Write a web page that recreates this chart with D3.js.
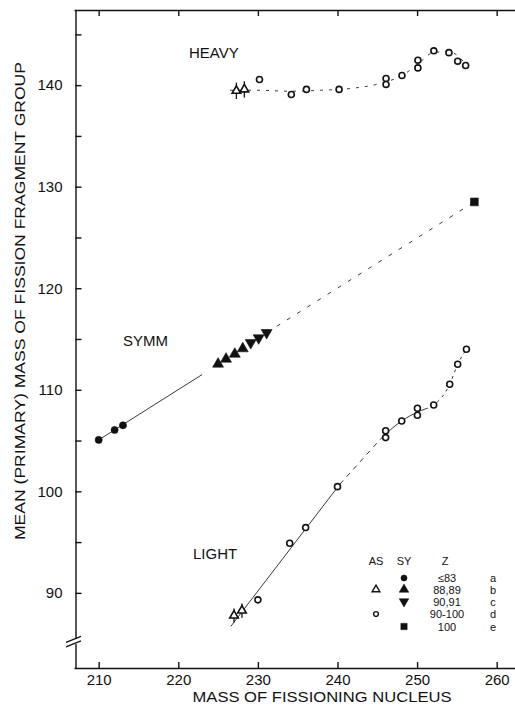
<!DOCTYPE html>
<html>
<head>
<meta charset="utf-8">
<script src="https://cdn.jsdelivr.net/npm/d3@7"></script>
<style>
  html, body { margin: 0; padding: 0; background: #fff; }
  svg text { font-family: "Liberation Sans", Arial, sans-serif; fill: #111; }
  .axis path, .axis line { stroke: #111; stroke-width: 1.4; }
  .axis text { font-size: 15px; }
</style>
</head>
<body>
<div class="chart"></div>
<script>
(function(){
    // x tick values and y tick values
    var xTicks = [210, 220, 230, 240, 250, 260];
    var yTicks = [90, 95, 100, 105, 110, 115, 120, 125, 130, 135, 140, 145];

    // HEAVY group
    var heavyAsX = [227.3, 228.3];
    var heavyAsY = [139.44, 139.58];
    var heavyX = [230.2, 234.2, 236.1, 240.2, 246.1, 246.1, 248.1, 250.1, 250.1, 252.1, 254.0, 255.1, 256.1];
    var heavyY = [140.56, 139.08, 139.58, 139.58, 140.66, 140.07, 140.95, 142.46, 141.7, 143.38, 143.2, 142.36, 141.94];
    var heavyFitX = [226.5, 230, 234, 238, 242, 246, 248, 250, 252, 254, 256.3];
    var heavyFitY = [139.5, 139.5, 139.4, 139.5, 139.7, 140.3, 140.9, 142.0, 143.2, 143.3, 141.9];

    // SYMM group
    var symmCircX = [210.0, 212.0, 213.05];
    var symmCircY = [105.06, 106.04, 106.5];
    var symmUpX = [225.0, 226.0, 227.1, 228.1];
    var symmUpY = [112.54, 113.03, 113.52, 114.05];
    var symmDownX = [229.1, 230.1, 231.1];
    var symmDownY = [114.63, 115.1, 115.62];
    var symmSquareX = [257.2];
    var symmSquareY = [128.5];
    var symmSolidX = [210.0, 223.0];
    var symmSolidY = [105.06, 111.5];
    var symmDashX = [231.1, 257.2];
    var symmDashY = [115.62, 128.5];

    // LIGHT group
    var lightAsX = [227.0, 228.0];
    var lightAsY = [87.77, 88.26];
    var lightX = [230.0, 234.0, 236.0, 240.0, 246.05, 246.05, 248.07, 250.04, 250.04, 252.09, 254.1, 255.1, 256.2];
    var lightY = [89.31, 94.89, 96.43, 100.46, 105.97, 105.29, 106.93, 108.18, 107.49, 108.5, 110.54, 112.51, 113.99];
    var lightSolid1X = [226.6, 240.3];
    var lightSolid1Y = [86.7, 100.7];
    var lightDash1X = [240.3, 245.7];
    var lightDash1Y = [100.7, 105.4];
    var lightSolid2X = [245.7, 248.07, 250.04, 251.0];
    var lightSolid2Y = [105.4, 106.93, 107.8, 108.1];
    var lightDash2X = [251.0, 252.09, 254.1, 255.1, 256.4];
    var lightDash2Y = [108.1, 108.5, 110.54, 112.51, 114.2];

    // legend rows
    var legendZ = ["\u226483", "88,89", "90,91", "90-100", "100"];
    var legendLetters = ["a", "b", "c", "d", "e"];
    var legendAs = [null, "openTriangle", null, "openCircle", null];
    var legendSy = ["circle", "triangle", "downTriangle", null, "square"];

    var containerWidth = 515, containerHeight = 713;
    var svg = d3.select(".chart").append("svg")
        .attr("width", containerWidth)
        .attr("height", containerHeight);

    var x = d3.scaleLinear().domain([206.9, 262.3]).range([74, 515]);
    var y = d3.scaleLinear().domain([82.6, 147.4]).range([668, 10]);

    function pts(xs, ys){ return xs.map(function(d, i){ return [d, ys[i]]; }); }
    var line = d3.line().x(function(d){ return x(d[0]); }).y(function(d){ return y(d[1]); });
    var curve = d3.line().curve(d3.curveMonotoneX)
        .x(function(d){ return x(d[0]); }).y(function(d){ return y(d[1]); });

    // Axes, ticks point inward
    svg.append("g").attr("class", "axis x-axis")
        .attr("transform", "translate(0,668)")
        .call(d3.axisBottom(x).tickValues(xTicks).tickSizeInner(-6).tickSizeOuter(0).tickPadding(6));
    svg.append("g").attr("class", "axis top-axis")
        .attr("transform", "translate(0,10)")
        .call(d3.axisTop(x).tickValues(xTicks).tickSizeInner(-6).tickSizeOuter(0).tickFormat(""));
    svg.append("g").attr("class", "axis y-axis")
        .attr("transform", "translate(75.5,0)")
        .call(d3.axisLeft(y).tickValues(yTicks).tickSizeInner(-6).tickSizeOuter(0).tickPadding(13)
            .tickFormat(function(d){ return d % 10 === 0 ? d : ""; }));
    svg.selectAll(".axis .tick text").attr("fill", "#111");

    // axis break
    var yb = y(85.2);
    svg.append("rect").attr("x", 72).attr("y", yb - 2.5).attr("width", 7).attr("height", 5).attr("fill", "#fff");
    [-2.2, 2.2].forEach(function(o){
        svg.append("line")
            .attr("x1", 66).attr("y1", yb + o + 3)
            .attr("x2", 81).attr("y2", yb + o - 3)
            .attr("stroke", "#111").attr("stroke-width", 1.3);
    });

    // axis titles
    svg.append("text")
        .attr("transform", "translate(25,301) rotate(-90)")
        .attr("text-anchor", "middle")
        .attr("textLength", 478).attr("lengthAdjust", "spacingAndGlyphs")
        .style("font-size", "15.5px")
        .text("MEAN (PRIMARY) MASS OF FISSION FRAGMENT GROUP");
    svg.append("text")
        .attr("x", 322).attr("y", 702)
        .attr("text-anchor", "middle")
        .attr("textLength", 259).attr("lengthAdjust", "spacingAndGlyphs")
        .style("font-size", "15px")
        .text("MASS OF FISSIONING NUCLEUS");

    // group labels
    var groupLabels = [["HEAVY", 189, 58], ["SYMM", 123, 346], ["LIGHT", 193, 559]];
    svg.selectAll(".glabel").data(groupLabels).enter().append("text")
        .attr("class", "glabel")
        .attr("x", function(d){ return d[1]; })
        .attr("y", function(d){ return d[2]; })
        .style("font-size", "15px")
        .text(function(d){ return d[0]; });

    // fit lines
    var plot = svg.append("g");
    function path(data, gen, dash){
        plot.append("path").datum(data).attr("d", gen)
            .attr("fill", "none").attr("stroke", "#222").attr("stroke-width", 0.9)
            .attr("stroke-dasharray", dash || null);
    }
    path(pts(heavyFitX, heavyFitY), curve, "3,6");
    path(pts(symmSolidX, symmSolidY), line);
    path(pts(symmDashX, symmDashY), line, "4,8");
    path(pts(lightSolid1X, lightSolid1Y), line);
    path(pts(lightDash1X, lightDash1Y), line, "5,5");
    path(pts(lightSolid2X, lightSolid2Y), curve);
    path(pts(lightDash2X, lightDash2Y), curve, "3,4");

    // markers
    var sym = {
        circle: d3.symbol().type(d3.symbolCircle).size(40),
        triangle: d3.symbol().type(d3.symbolTriangle).size(52),
        square: d3.symbol().type(d3.symbolSquare).size(60),
        openTriangle: d3.symbol().type(d3.symbolTriangle).size(32),
        openCircle: d3.symbol().type(d3.symbolCircle).size(28)
    };
    function marks(data, kind, rot){
        var open = kind.indexOf("open") === 0;
        plot.selectAll(null).data(data).enter().append("path")
            .attr("d", sym[kind])
            .attr("transform", function(d){
                return "translate(" + x(d[0]) + "," + y(d[1]) + ")" + (rot ? " rotate(180)" : "");
            })
            .attr("fill", open ? "#fff" : "#111")
            .attr("stroke", "#111")
            .attr("stroke-width", open ? 1.6 : 0.6);
    }
    function errBars(data, err){
        plot.selectAll(null).data(data).enter().append("line")
            .attr("x1", function(d){ return x(d[0]); })
            .attr("x2", function(d){ return x(d[0]); })
            .attr("y1", function(d){ return y(d[1] + err); })
            .attr("y2", function(d){ return y(d[1] - err); })
            .attr("stroke", "#111").attr("stroke-width", 1.3);
    }

    errBars(pts(heavyAsX, heavyAsY), 0.8);
    marks(pts(heavyAsX, heavyAsY), "openTriangle");
    marks(pts(heavyX, heavyY), "openCircle");

    marks(pts(symmCircX, symmCircY), "circle");
    marks(pts(symmUpX, symmUpY), "triangle");
    marks(pts(symmDownX, symmDownY), "triangle", true);
    marks(pts(symmSquareX, symmSquareY), "square");

    errBars(pts(lightAsX, lightAsY), 0.7);
    marks(pts(lightAsX, lightAsY), "openTriangle");
    marks(pts(lightX, lightY), "openCircle");

    // legend
    var legend = svg.append("g").attr("class", "legend");
    var rowY = [578, 589.5, 601.5, 614, 626.5];
    var fs = "11px";
    legend.append("text").attr("x", 376).attr("y", 561).attr("text-anchor", "middle")
        .attr("dominant-baseline", "central").style("font-size", fs).text("AS");
    legend.append("text").attr("x", 404).attr("y", 561).attr("text-anchor", "middle")
        .attr("dominant-baseline", "central").style("font-size", fs).text("SY");
    legend.append("text").attr("x", 445).attr("y", 561).attr("text-anchor", "middle")
        .attr("dominant-baseline", "central").style("font-size", fs).text("Z");
    var legendSym = {
        circle: d3.symbol().type(d3.symbolCircle).size(30),
        triangle: d3.symbol().type(d3.symbolTriangle).size(40),
        downTriangle: d3.symbol().type(d3.symbolTriangle).size(40),
        square: d3.symbol().type(d3.symbolSquare).size(40),
        openTriangle: d3.symbol().type(d3.symbolTriangle).size(26),
        openCircle: d3.symbol().type(d3.symbolCircle).size(18)
    };
    legendZ.forEach(function(z, i){
        var ry = rowY[i];
        [[legendAs[i], 376], [legendSy[i], 404]].forEach(function(s){
            if (!s[0]) return;
            var open = s[0].indexOf("open") === 0;
            legend.append("path").attr("d", legendSym[s[0]])
                .attr("transform", "translate(" + s[1] + "," + ry + ")" + (s[0] === "downTriangle" ? " rotate(180)" : ""))
                .attr("fill", open ? "#fff" : "#111")
                .attr("stroke", "#111").attr("stroke-width", open ? 1.4 : 0.5);
        });
        legend.append("text").attr("x", 447).attr("y", ry).attr("text-anchor", "middle")
            .attr("dominant-baseline", "central").style("font-size", fs).text(z);
        legend.append("text").attr("x", 493).attr("y", ry).attr("text-anchor", "middle")
            .attr("dominant-baseline", "central").style("font-size", fs).text(legendLetters[i]);
    });
}());
</script>
</body>
</html>
